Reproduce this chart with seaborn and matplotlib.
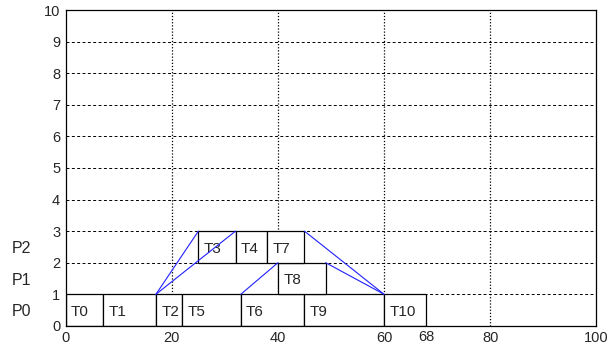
import matplotlib
matplotlib.use("Agg")
import matplotlib.pyplot as plt
import matplotlib.transforms as mtransforms
import seaborn as sns
import pandas as pd

# Task schedule: name, processor row, start time, finish time
tasks = ["T0", "T1", "T2", "T5", "T6", "T9", "T10", "T8", "T3", "T4", "T7"]
proc = [0, 0, 0, 0, 0, 0, 0, 1, 2, 2, 2]
start = [0, 7, 17, 22, 33, 45, 60, 40, 25, 32, 38]
finish = [7, 17, 22, 33, 45, 60, 68, 49, 32, 38, 45]

# Communication links between tasks (x0, y0) -> (x1, y1)
link_x0 = [17, 17, 33, 45, 49]
link_y0 = [1, 1, 1, 3, 2]
link_x1 = [25, 32, 40, 60, 60]
link_y1 = [3, 3, 2, 1, 1]

proc_labels = ["P0", "P1", "P2"]
x_ticks = [0, 20, 40, 60, 80, 100]
y_ticks = list(range(0, 11))

sns.set_style("white")
plt.rcParams["font.family"] = ["Liberation Sans", "DejaVu Sans"]

fig = plt.figure(figsize=(6.09, 3.5), dpi=100)
ax = fig.add_axes([0.108, 0.069, 0.871, 0.902])

# grid
for y in range(1, 10):
    ax.axhline(y, color="black", lw=0.7, ls=(0, (3, 2.5)), zorder=0)
for x in [20, 40, 60, 80]:
    ax.axvline(x, color="black", lw=0.9, ls=(0, (1, 1.5)), zorder=0)

# task boxes
df = pd.DataFrame({"task": tasks, "proc": proc, "start": start, "finish": finish})
ax.barh(df["proc"] + 0.5, df["finish"] - df["start"], left=df["start"], height=1.0,
        color="white", edgecolor="black", linewidth=0.9, zorder=2)
for _, r in df.iterrows():
    ax.text(r["start"] + 1.0, r["proc"] + 0.45, r["task"], ha="left", va="center",
            fontsize=11, zorder=3)

# links
links = []
for i, (a, b, c, d) in enumerate(zip(link_x0, link_y0, link_x1, link_y1)):
    links.append({"id": i, "x": a, "y": b})
    links.append({"id": i, "x": c, "y": d})
ldf = pd.DataFrame(links)
sns.lineplot(data=ldf, x="x", y="y", units="id", estimator=None, sort=False,
             color="#2020ff", lw=0.8, ax=ax, zorder=4)

ax.set_xlim(0, 100)
ax.set_ylim(0, 10)
ax.set_xticks(x_ticks)
ax.set_yticks(y_ticks)
ax.tick_params(axis="both", length=0, labelsize=10.5, pad=4)
ax.set_xlabel("")
ax.set_ylabel("")
for s in ax.spines.values():
    s.set_color("black")
    s.set_linewidth(0.9)

# extra tick label for the makespan
ax.text(68, -0.13, "68", ha="center", va="top", fontsize=10.5,
        transform=ax.transData, clip_on=False)

# processor labels
trans = mtransforms.blended_transform_factory(ax.transAxes, ax.transData)
for i, lab in enumerate(proc_labels):
    ax.text(-0.102, i + 0.45, lab, ha="left", va="center", fontsize=11.5,
            transform=trans, clip_on=False)

fig.savefig("out.png", dpi=100, facecolor="white")
